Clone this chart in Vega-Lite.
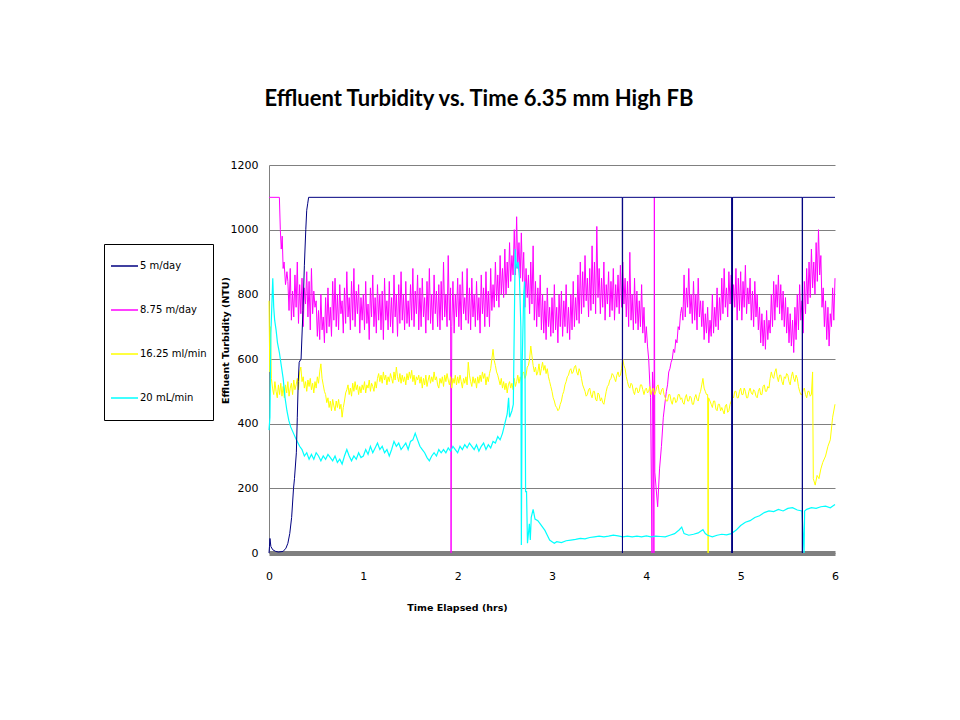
{
"$schema": "https://vega.github.io/schema/vega-lite/v6.json",
"autosize": "none",
"width": 566, "height": 388,
"padding": {"left": 269, "top": 165, "right": 125, "bottom": 167},
"background": "white",
"title": {"text": "Effluent Turbidity vs. Time 6.35 mm High FB", "font": "Lato", "fontSize": 22, "fontWeight": "bold", "color": "black", "anchor": "middle", "frame": "group", "dx": -73, "offset": 31, "baseline": "alphabetic"},
"config": {"view": {"stroke": null}},
"encoding": {
  "x": {"field": "t", "type": "quantitative", "scale": {"domain": [0, 6], "nice": false}, "axis": {"values": [0,1,2,3,4,5,6], "format": "d", "labelFlush": false, "grid": false, "ticks": false, "domainColor": "#808080", "domainWidth": 5, "labelFont": "DejaVu Sans", "labelFontSize": 11, "labelColor": "black", "labelPadding": 17, "title": "Time Elapsed  (hrs)", "titleFont": "DejaVu Sans", "titleFontSize": 9.5, "titleFontWeight": "bold", "titleColor": "black", "titleX": 188, "titleY": 54, "titleBaseline": "middle", "titleAlign": "center"}},
  "y": {"field": "v", "type": "quantitative", "scale": {"domain": [0, 1200], "nice": false}, "axis": {"values": [0,200,400,600,800,1000,1200], "format": "d", "grid": true, "gridColor": "#808080", "gridWidth": 1, "ticks": false, "domainColor": "#808080", "domainWidth": 1, "labelFont": "DejaVu Sans", "labelFontSize": 11, "labelColor": "black", "labelPadding": 11, "title": "Effluent Turbidity (NTU)", "titleFont": "DejaVu Sans", "titleFontSize": 9.5, "titleFontWeight": "bold", "titleColor": "black", "titleX": -44, "titleY": 175, "titleBaseline": "middle", "titleAlign": "center"}}
},
"layer": [
{
"data": {"values": [
{"t":0,"v":1100},{"t":0.11,"v":1100},{"t":0.12,"v":1000},{"t":0.13,"v":940},{"t":0.14,"v":980},{"t":0.15,"v":880},{"t":0.16,"v":900},{"t":0.175,"v":830},{"t":0.19,"v":870},
{"t":0.2,"v":840},{"t":0.2125,"v":750},{"t":0.225,"v":880},{"t":0.2375,"v":720},{"t":0.25,"v":810},{"t":0.2625,"v":730},{"t":0.275,"v":860},{"t":0.2875,"v":760},
{"t":0.3,"v":900},{"t":0.3125,"v":710},{"t":0.325,"v":830},{"t":0.3375,"v":740},{"t":0.35,"v":850},{"t":0.3625,"v":700},{"t":0.375,"v":820},{"t":0.3875,"v":770},
{"t":0.4,"v":870},{"t":0.4125,"v":730},{"t":0.425,"v":840},{"t":0.4375,"v":690},{"t":0.45,"v":880},{"t":0.4625,"v":740},{"t":0.475,"v":810},{"t":0.4875,"v":760},
{"t":0.5,"v":780},{"t":0.5125,"v":670},{"t":0.525,"v":750},{"t":0.5375,"v":660},{"t":0.55,"v":800},{"t":0.5625,"v":690},{"t":0.575,"v":730},{"t":0.5875,"v":650},
{"t":0.6,"v":790},{"t":0.6125,"v":680},{"t":0.625,"v":820},{"t":0.6375,"v":700},{"t":0.65,"v":760},{"t":0.6625,"v":670},{"t":0.675,"v":840},{"t":0.6875,"v":720},
{"t":0.7,"v":850},{"t":0.7125,"v":700},{"t":0.725,"v":800},{"t":0.7375,"v":690},{"t":0.75,"v":830},{"t":0.7625,"v":740},{"t":0.775,"v":780},{"t":0.7875,"v":680},
{"t":0.8,"v":820},{"t":0.8125,"v":710},{"t":0.825,"v":870},{"t":0.8375,"v":730},{"t":0.85,"v":790},{"t":0.8625,"v":690},{"t":0.875,"v":840},{"t":0.8875,"v":720},
{"t":0.9,"v":880},{"t":0.9125,"v":700},{"t":0.925,"v":810},{"t":0.9375,"v":740},{"t":0.95,"v":830},{"t":0.9625,"v":680},{"t":0.975,"v":790},{"t":0.9875,"v":720},
{"t":1.0,"v":800},{"t":1.0125,"v":690},{"t":1.025,"v":840},{"t":1.0375,"v":710},{"t":1.05,"v":770},{"t":1.0625,"v":660},{"t":1.075,"v":820},{"t":1.0875,"v":730},
{"t":1.1,"v":860},{"t":1.1125,"v":700},{"t":1.125,"v":790},{"t":1.1375,"v":680},{"t":1.15,"v":830},{"t":1.1625,"v":720},{"t":1.175,"v":800},{"t":1.1875,"v":690},
{"t":1.2,"v":810},{"t":1.2125,"v":660},{"t":1.225,"v":850},{"t":1.2375,"v":720},{"t":1.25,"v":780},{"t":1.2625,"v":690},{"t":1.275,"v":840},{"t":1.2875,"v":700},
{"t":1.3,"v":790},{"t":1.3125,"v":680},{"t":1.325,"v":860},{"t":1.3375,"v":730},{"t":1.35,"v":800},{"t":1.3625,"v":670},{"t":1.375,"v":830},{"t":1.3875,"v":710},
{"t":1.4,"v":870},{"t":1.4125,"v":720},{"t":1.425,"v":800},{"t":1.4375,"v":690},{"t":1.45,"v":840},{"t":1.4625,"v":710},{"t":1.475,"v":780},{"t":1.4875,"v":700},
{"t":1.5,"v":830},{"t":1.5125,"v":720},{"t":1.525,"v":880},{"t":1.5375,"v":700},{"t":1.55,"v":810},{"t":1.5625,"v":740},{"t":1.575,"v":860},{"t":1.5875,"v":690},
{"t":1.6,"v":820},{"t":1.6125,"v":700},{"t":1.625,"v":850},{"t":1.6375,"v":730},{"t":1.65,"v":790},{"t":1.6625,"v":680},{"t":1.675,"v":840},{"t":1.6875,"v":720},
{"t":1.7,"v":880},{"t":1.7125,"v":710},{"t":1.725,"v":800},{"t":1.7375,"v":690},{"t":1.75,"v":860},{"t":1.7625,"v":740},{"t":1.775,"v":810},{"t":1.7875,"v":700},
{"t":1.8,"v":830},{"t":1.8125,"v":690},{"t":1.825,"v":840},{"t":1.8375,"v":720},{"t":1.85,"v":900},{"t":1.8625,"v":730},{"t":1.875,"v":800},{"t":1.8875,"v":700},
{"t":1.9,"v":920},{"t":1.9125,"v":720},{"t":1.925,"v":820},{"t":1.93,"v":0},{"t":1.9375,"v":700},{"t":1.95,"v":840},{"t":1.9625,"v":680},{"t":1.975,"v":800},{"t":1.9875,"v":730},
{"t":2.0,"v":850},{"t":2.0125,"v":700},{"t":2.025,"v":830},{"t":2.0375,"v":690},{"t":2.05,"v":870},{"t":2.0625,"v":740},{"t":2.075,"v":790},{"t":2.0875,"v":720},
{"t":2.1,"v":880},{"t":2.1125,"v":710},{"t":2.125,"v":820},{"t":2.1375,"v":690},{"t":2.15,"v":850},{"t":2.1625,"v":730},{"t":2.175,"v":800},{"t":2.1875,"v":700},
{"t":2.2,"v":840},{"t":2.2125,"v":720},{"t":2.225,"v":790},{"t":2.2375,"v":680},{"t":2.25,"v":860},{"t":2.2625,"v":740},{"t":2.275,"v":820},{"t":2.2875,"v":700},
{"t":2.3,"v":870},{"t":2.3125,"v":730},{"t":2.325,"v":810},{"t":2.3375,"v":700},{"t":2.35,"v":880},{"t":2.3625,"v":750},{"t":2.375,"v":830},{"t":2.3875,"v":760},
{"t":2.4,"v":900},{"t":2.4125,"v":780},{"t":2.425,"v":860},{"t":2.4375,"v":760},{"t":2.45,"v":920},{"t":2.4625,"v":800},{"t":2.475,"v":880},{"t":2.4875,"v":790},
{"t":2.5,"v":940},{"t":2.5125,"v":800},{"t":2.525,"v":900},{"t":2.5375,"v":820},{"t":2.55,"v":960},{"t":2.5625,"v":840},{"t":2.575,"v":920},{"t":2.5875,"v":860},
{"t":2.6,"v":1000},{"t":2.6125,"v":860},{"t":2.625,"v":1040},{"t":2.6375,"v":880},{"t":2.65,"v":960},{"t":2.6625,"v":850},{"t":2.675,"v":990},{"t":2.6875,"v":840},
{"t":2.7,"v":930},{"t":2.7125,"v":760},{"t":2.725,"v":880},{"t":2.7375,"v":790},{"t":2.75,"v":860},{"t":2.7625,"v":740},{"t":2.775,"v":900},{"t":2.7875,"v":770},
{"t":2.8,"v":950},{"t":2.8125,"v":720},{"t":2.825,"v":840},{"t":2.8375,"v":700},{"t":2.85,"v":820},{"t":2.8625,"v":730},{"t":2.875,"v":860},{"t":2.8875,"v":690},
{"t":2.9,"v":800},{"t":2.9125,"v":680},{"t":2.925,"v":780},{"t":2.9375,"v":660},{"t":2.95,"v":820},{"t":2.9625,"v":700},{"t":2.975,"v":760},{"t":2.9875,"v":670},
{"t":3.0,"v":790},{"t":3.0125,"v":680},{"t":3.025,"v":830},{"t":3.0375,"v":690},{"t":3.05,"v":760},{"t":3.0625,"v":650},{"t":3.075,"v":800},{"t":3.0875,"v":700},
{"t":3.1,"v":810},{"t":3.1125,"v":670},{"t":3.125,"v":780},{"t":3.1375,"v":700},{"t":3.15,"v":830},{"t":3.1625,"v":680},{"t":3.175,"v":760},{"t":3.1875,"v":660},
{"t":3.2,"v":800},{"t":3.2125,"v":690},{"t":3.225,"v":840},{"t":3.2375,"v":700},{"t":3.25,"v":790},{"t":3.2625,"v":720},{"t":3.275,"v":860},{"t":3.2875,"v":710},
{"t":3.3,"v":900},{"t":3.3125,"v":740},{"t":3.325,"v":870},{"t":3.3375,"v":760},{"t":3.35,"v":920},{"t":3.3625,"v":780},{"t":3.375,"v":850},{"t":3.3875,"v":730},
{"t":3.4,"v":880},{"t":3.4125,"v":750},{"t":3.425,"v":950},{"t":3.4375,"v":770},{"t":3.45,"v":900},{"t":3.4625,"v":740},{"t":3.475,"v":1010},{"t":3.4875,"v":790},
{"t":3.5,"v":880},{"t":3.5125,"v":740},{"t":3.525,"v":850},{"t":3.5375,"v":760},{"t":3.55,"v":900},{"t":3.5625,"v":720},{"t":3.575,"v":830},{"t":3.5875,"v":770},
{"t":3.6,"v":870},{"t":3.6125,"v":730},{"t":3.625,"v":840},{"t":3.6375,"v":750},{"t":3.65,"v":880},{"t":3.6625,"v":720},{"t":3.675,"v":830},{"t":3.6875,"v":760},
{"t":3.7,"v":860},{"t":3.7125,"v":740},{"t":3.725,"v":890},{"t":3.7375,"v":760},{"t":3.75,"v":900},{"t":3.7625,"v":770},{"t":3.775,"v":850},{"t":3.7875,"v":730},
{"t":3.8,"v":840},{"t":3.8125,"v":700},{"t":3.825,"v":930},{"t":3.8375,"v":720},{"t":3.85,"v":800},{"t":3.8625,"v":690},{"t":3.875,"v":850},{"t":3.8875,"v":710},
{"t":3.9,"v":810},{"t":3.9125,"v":690},{"t":3.925,"v":780},{"t":3.9375,"v":700},{"t":3.95,"v":830},{"t":3.9625,"v":680},{"t":3.975,"v":760},{"t":3.9875,"v":650},
{"t":4.0,"v":700},{"t":4.0125,"v":640},{"t":4.025,"v":600},{"t":4.0375,"v":520},{"t":4.045,"v":480},{"t":4.06,"v":0},{"t":4.065,"v":560},{"t":4.075,"v":500},{"t":4.08,"v":0},{"t":4.085,"v":1100},
{"t":4.09,"v":250},{"t":4.12,"v":143},{"t":4.14,"v":260},{"t":4.16,"v":330},{"t":4.18,"v":420},{"t":4.2,"v":470},{"t":4.2125,"v":500},{"t":4.225,"v":520},{"t":4.2375,"v":560},{"t":4.25,"v":570},
{"t":4.2625,"v":590},{"t":4.275,"v":600},{"t":4.2875,"v":630},{"t":4.3,"v":620},{"t":4.3125,"v":660},{"t":4.325,"v":650},{"t":4.3375,"v":700},{"t":4.35,"v":690},{"t":4.3625,"v":740},{"t":4.375,"v":760},{"t":4.3875,"v":720},
{"t":4.4,"v":860},{"t":4.4125,"v":730},{"t":4.425,"v":820},{"t":4.4375,"v":760},{"t":4.45,"v":880},{"t":4.4625,"v":740},{"t":4.475,"v":800},{"t":4.4875,"v":710},
{"t":4.5,"v":840},{"t":4.5125,"v":720},{"t":4.525,"v":800},{"t":4.5375,"v":690},{"t":4.55,"v":850},{"t":4.5625,"v":730},{"t":4.575,"v":780},{"t":4.5875,"v":700},
{"t":4.6,"v":780},{"t":4.6125,"v":660},{"t":4.625,"v":740},{"t":4.6375,"v":680},{"t":4.65,"v":760},{"t":4.6625,"v":650},{"t":4.675,"v":720},{"t":4.6875,"v":670},
{"t":4.7,"v":800},{"t":4.7125,"v":680},{"t":4.725,"v":760},{"t":4.7375,"v":700},{"t":4.75,"v":820},{"t":4.7625,"v":690},{"t":4.775,"v":790},{"t":4.7875,"v":720},
{"t":4.8,"v":850},{"t":4.8125,"v":740},{"t":4.825,"v":880},{"t":4.8375,"v":760},{"t":4.85,"v":820},{"t":4.8625,"v":730},{"t":4.875,"v":870},{"t":4.8875,"v":770},
{"t":4.9,"v":860},{"t":4.9125,"v":740},{"t":4.925,"v":830},{"t":4.9375,"v":760},{"t":4.95,"v":880},{"t":4.9625,"v":720},{"t":4.975,"v":850},{"t":4.9875,"v":750},
{"t":5.0,"v":870},{"t":5.0125,"v":720},{"t":5.025,"v":840},{"t":5.0375,"v":760},{"t":5.05,"v":890},{"t":5.0625,"v":740},{"t":5.075,"v":820},{"t":5.0875,"v":770},
{"t":5.1,"v":850},{"t":5.1125,"v":720},{"t":5.125,"v":810},{"t":5.1375,"v":700},{"t":5.15,"v":840},{"t":5.1625,"v":730},{"t":5.175,"v":800},{"t":5.1875,"v":690},
{"t":5.2,"v":760},{"t":5.2125,"v":650},{"t":5.225,"v":740},{"t":5.2375,"v":640},{"t":5.25,"v":720},{"t":5.2625,"v":630},{"t":5.275,"v":750},{"t":5.2875,"v":660},
{"t":5.3,"v":720},{"t":5.3125,"v":680},{"t":5.325,"v":800},{"t":5.3375,"v":700},{"t":5.35,"v":840},{"t":5.3625,"v":720},{"t":5.375,"v":830},{"t":5.3875,"v":760},
{"t":5.4,"v":860},{"t":5.4125,"v":740},{"t":5.425,"v":830},{"t":5.4375,"v":720},{"t":5.45,"v":810},{"t":5.4625,"v":700},{"t":5.475,"v":790},{"t":5.4875,"v":680},
{"t":5.5,"v":760},{"t":5.5125,"v":650},{"t":5.525,"v":740},{"t":5.5375,"v":640},{"t":5.55,"v":720},{"t":5.5625,"v":620},{"t":5.575,"v":760},{"t":5.5875,"v":660},
{"t":5.6,"v":800},{"t":5.6125,"v":690},{"t":5.625,"v":830},{"t":5.6375,"v":720},{"t":5.65,"v":780},{"t":5.6625,"v":680},{"t":5.675,"v":840},{"t":5.6875,"v":740},
{"t":5.7,"v":880},{"t":5.7125,"v":770},{"t":5.725,"v":900},{"t":5.7375,"v":790},{"t":5.75,"v":940},{"t":5.7625,"v":820},{"t":5.775,"v":900},{"t":5.7875,"v":800},
{"t":5.8,"v":960},{"t":5.8125,"v":840},{"t":5.825,"v":1000},{"t":5.8375,"v":860},{"t":5.85,"v":920},{"t":5.8625,"v":760},{"t":5.875,"v":820},{"t":5.8875,"v":700},
{"t":5.9,"v":780},{"t":5.9125,"v":660},{"t":5.925,"v":760},{"t":5.9375,"v":640},{"t":5.95,"v":740},{"t":5.9625,"v":700},{"t":5.975,"v":820},{"t":5.9875,"v":720},{"t":6.0,"v":850}
]},
"mark": {"type": "line", "strokeWidth": 1},
"encoding": {"color": {"datum": "8.75 m/day", "type": "nominal",
  "scale": {"domain": ["5 m/day", "8.75 m/day", "16.25 ml/min", "20  mL/min"], "range": ["#000080", "#FF00FF", "#FFFF00", "#00FFFF"]},
  "legend": {"title": null, "orient": "none", "legendX": -165, "legendY": 79, "symbolType": "stroke", "symbolSize": 729, "symbolStrokeWidth": 1.5, "labelFont": "DejaVu Sans", "labelFontSize": 10, "labelColor": "black", "labelOffset": 1, "padding": 6, "rowPadding": 12, "clipHeight": 32, "strokeColor": "black", "fillColor": "white"}}}
},
{
"data": {"values": [
{"t":0,"v":780},{"t":0.008,"v":560},{"t":0.015,"v":700},{"t":0.025,"v":540},{"t":0.0375,"v":510},
{"t":0.05,"v":490},{"t":0.0625,"v":530},{"t":0.075,"v":500},{"t":0.0875,"v":480},{"t":0.1,"v":520},{"t":0.1125,"v":490},{"t":0.125,"v":525},{"t":0.1375,"v":485},
{"t":0.15,"v":515},{"t":0.1625,"v":480},{"t":0.175,"v":520},{"t":0.1875,"v":495},{"t":0.2,"v":530},{"t":0.2125,"v":485},{"t":0.225,"v":510},{"t":0.2375,"v":525},{"t":0.25,"v":490},{"t":0.2625,"v":535},{"t":0.275,"v":505},{"t":0.2875,"v":520},
{"t":0.3,"v":540},{"t":0.3125,"v":505},{"t":0.325,"v":560},{"t":0.3375,"v":575},{"t":0.35,"v":530},{"t":0.3625,"v":545},{"t":0.375,"v":510},{"t":0.3875,"v":530},
{"t":0.4,"v":500},{"t":0.4125,"v":535},{"t":0.425,"v":515},{"t":0.4375,"v":540},{"t":0.45,"v":505},{"t":0.4625,"v":525},{"t":0.475,"v":495},{"t":0.4875,"v":530},
{"t":0.5,"v":510},{"t":0.5125,"v":545},{"t":0.525,"v":525},{"t":0.5375,"v":560},{"t":0.55,"v":585},{"t":0.5625,"v":540},{"t":0.575,"v":520},{"t":0.5875,"v":500},
{"t":0.6,"v":490},{"t":0.6125,"v":465},{"t":0.625,"v":480},{"t":0.6375,"v":450},{"t":0.65,"v":470},{"t":0.6625,"v":440},{"t":0.675,"v":475},{"t":0.6875,"v":455},
{"t":0.7,"v":440},{"t":0.7125,"v":470},{"t":0.725,"v":450},{"t":0.7375,"v":475},{"t":0.75,"v":445},{"t":0.7625,"v":460},{"t":0.775,"v":420},{"t":0.7875,"v":450},
{"t":0.8,"v":470},{"t":0.8125,"v":495},{"t":0.825,"v":505},{"t":0.8375,"v":520},{"t":0.85,"v":490},{"t":0.8625,"v":510},{"t":0.875,"v":485},{"t":0.8875,"v":525},
{"t":0.9,"v":500},{"t":0.9125,"v":530},{"t":0.925,"v":505},{"t":0.9375,"v":520},{"t":0.95,"v":490},{"t":0.9625,"v":515},{"t":0.975,"v":495},{"t":0.9875,"v":520},
{"t":1.0,"v":505},{"t":1.0125,"v":530},{"t":1.025,"v":495},{"t":1.0375,"v":520},{"t":1.05,"v":510},{"t":1.0625,"v":535},{"t":1.075,"v":500},{"t":1.0875,"v":525},
{"t":1.1,"v":515},{"t":1.1125,"v":500},{"t":1.125,"v":530},{"t":1.1375,"v":510},{"t":1.15,"v":540},{"t":1.1625,"v":555},{"t":1.175,"v":530},{"t":1.1875,"v":550},
{"t":1.2,"v":525},{"t":1.2125,"v":560},{"t":1.225,"v":535},{"t":1.2375,"v":550},{"t":1.25,"v":520},{"t":1.2625,"v":545},{"t":1.275,"v":530},{"t":1.2875,"v":555},
{"t":1.3,"v":540},{"t":1.3125,"v":525},{"t":1.325,"v":560},{"t":1.3375,"v":535},{"t":1.35,"v":575},{"t":1.3625,"v":545},{"t":1.375,"v":530},{"t":1.3875,"v":555},
{"t":1.4,"v":525},{"t":1.4125,"v":550},{"t":1.425,"v":530},{"t":1.4375,"v":545},{"t":1.45,"v":520},{"t":1.4625,"v":555},{"t":1.475,"v":535},{"t":1.4875,"v":560},
{"t":1.5,"v":540},{"t":1.5125,"v":565},{"t":1.525,"v":530},{"t":1.5375,"v":550},{"t":1.55,"v":520},{"t":1.5625,"v":545},{"t":1.575,"v":535},{"t":1.5875,"v":550},
{"t":1.6,"v":525},{"t":1.6125,"v":545},{"t":1.625,"v":510},{"t":1.6375,"v":540},{"t":1.65,"v":520},{"t":1.6625,"v":550},{"t":1.675,"v":515},{"t":1.6875,"v":535},
{"t":1.7,"v":550},{"t":1.7125,"v":525},{"t":1.725,"v":545},{"t":1.7375,"v":530},{"t":1.75,"v":560},{"t":1.7625,"v":535},{"t":1.775,"v":545},{"t":1.7875,"v":520},
{"t":1.8,"v":510},{"t":1.8125,"v":540},{"t":1.825,"v":525},{"t":1.8375,"v":545},{"t":1.85,"v":515},{"t":1.8625,"v":550},{"t":1.875,"v":530},{"t":1.8875,"v":555},
{"t":1.9,"v":535},{"t":1.9125,"v":520},{"t":1.925,"v":545},{"t":1.9375,"v":510},{"t":1.95,"v":540},{"t":1.9625,"v":525},{"t":1.975,"v":550},{"t":1.9875,"v":520},
{"t":2.0,"v":545},{"t":2.0125,"v":525},{"t":2.025,"v":550},{"t":2.0375,"v":530},{"t":2.05,"v":510},{"t":2.0625,"v":540},{"t":2.075,"v":525},{"t":2.0875,"v":545},
{"t":2.1,"v":520},{"t":2.1125,"v":590},{"t":2.125,"v":550},{"t":2.1375,"v":530},{"t":2.15,"v":515},{"t":2.1625,"v":545},{"t":2.175,"v":525},{"t":2.1875,"v":540},
{"t":2.2,"v":510},{"t":2.2125,"v":545},{"t":2.225,"v":525},{"t":2.2375,"v":550},{"t":2.25,"v":530},{"t":2.2625,"v":560},{"t":2.275,"v":540},{"t":2.2875,"v":555},
{"t":2.3,"v":520},{"t":2.3125,"v":545},{"t":2.325,"v":530},{"t":2.3375,"v":555},{"t":2.35,"v":570},{"t":2.3625,"v":600},{"t":2.375,"v":630},{"t":2.3875,"v":595},
{"t":2.4,"v":580},{"t":2.4125,"v":560},{"t":2.425,"v":550},{"t":2.4375,"v":535},{"t":2.45,"v":520},{"t":2.4625,"v":540},{"t":2.475,"v":510},{"t":2.4875,"v":530},
{"t":2.5,"v":505},{"t":2.5125,"v":525},{"t":2.525,"v":495},{"t":2.5375,"v":520},{"t":2.55,"v":530},{"t":2.5625,"v":510},{"t":2.575,"v":525},{"t":2.5875,"v":505},
{"t":2.6,"v":540},{"t":2.6125,"v":515},{"t":2.625,"v":530},{"t":2.6375,"v":550},{"t":2.65,"v":525},{"t":2.6625,"v":545},{"t":2.675,"v":530},{"t":2.6875,"v":555},
{"t":2.7,"v":560},{"t":2.7125,"v":540},{"t":2.725,"v":550},{"t":2.7375,"v":575},{"t":2.75,"v":580},{"t":2.7625,"v":600},{"t":2.775,"v":640},{"t":2.7875,"v":610},
{"t":2.8,"v":580},{"t":2.8125,"v":560},{"t":2.825,"v":575},{"t":2.8375,"v":550},{"t":2.85,"v":560},{"t":2.8625,"v":585},{"t":2.875,"v":550},{"t":2.8875,"v":570},
{"t":2.9,"v":590},{"t":2.9125,"v":565},{"t":2.925,"v":580},{"t":2.9375,"v":555},{"t":2.95,"v":570},{"t":2.9625,"v":545},{"t":2.975,"v":530},{"t":2.9875,"v":515},
{"t":3.0,"v":500},{"t":3.0125,"v":480},{"t":3.025,"v":470},{"t":3.0375,"v":455},{"t":3.05,"v":450},{"t":3.0625,"v":440},{"t":3.075,"v":445},{"t":3.0875,"v":460},
{"t":3.1,"v":470},{"t":3.1125,"v":490},{"t":3.125,"v":500},{"t":3.1375,"v":520},{"t":3.15,"v":530},{"t":3.1625,"v":545},{"t":3.175,"v":550},{"t":3.1875,"v":565},
{"t":3.2,"v":570},{"t":3.2125,"v":555},{"t":3.225,"v":560},{"t":3.2375,"v":575},{"t":3.25,"v":580},{"t":3.2625,"v":560},{"t":3.275,"v":550},{"t":3.2875,"v":570},
{"t":3.3,"v":560},{"t":3.3125,"v":540},{"t":3.325,"v":520},{"t":3.3375,"v":510},{"t":3.35,"v":500},{"t":3.3625,"v":485},{"t":3.375,"v":490},{"t":3.3875,"v":505},
{"t":3.4,"v":510},{"t":3.4125,"v":490},{"t":3.425,"v":480},{"t":3.4375,"v":500},{"t":3.45,"v":500},{"t":3.4625,"v":475},{"t":3.475,"v":470},{"t":3.4875,"v":495},
{"t":3.5,"v":490},{"t":3.5125,"v":470},{"t":3.525,"v":480},{"t":3.5375,"v":465},{"t":3.55,"v":460},{"t":3.5625,"v":480},{"t":3.575,"v":500},{"t":3.5875,"v":515},
{"t":3.6,"v":520},{"t":3.6125,"v":535},{"t":3.625,"v":540},{"t":3.6375,"v":555},{"t":3.65,"v":550},{"t":3.6625,"v":540},{"t":3.675,"v":530},{"t":3.6875,"v":550},
{"t":3.7,"v":560},{"t":3.7125,"v":545},{"t":3.725,"v":550},{"t":3.7375,"v":570},{"t":3.75,"v":600},{"t":3.7625,"v":580},{"t":3.775,"v":570},{"t":3.7875,"v":545},
{"t":3.8,"v":530},{"t":3.8125,"v":515},{"t":3.825,"v":510},{"t":3.8375,"v":525},{"t":3.85,"v":520},{"t":3.8625,"v":500},{"t":3.875,"v":490},{"t":3.8875,"v":510},
{"t":3.9,"v":510},{"t":3.9125,"v":495},{"t":3.925,"v":500},{"t":3.9375,"v":520},{"t":3.95,"v":520},{"t":3.9625,"v":505},{"t":3.975,"v":490},{"t":3.9875,"v":505},
{"t":4.0,"v":510},{"t":4.0125,"v":495},{"t":4.025,"v":500},{"t":4.0375,"v":515},{"t":4.05,"v":490},{"t":4.0625,"v":505},{"t":4.075,"v":510},{"t":4.0875,"v":490},
{"t":4.1,"v":500},{"t":4.1125,"v":515},{"t":4.125,"v":520},{"t":4.1375,"v":495},{"t":4.15,"v":490},{"t":4.1625,"v":505},{"t":4.175,"v":510},{"t":4.1875,"v":490},
{"t":4.2,"v":480},{"t":4.2125,"v":470},{"t":4.225,"v":470},{"t":4.2375,"v":490},{"t":4.25,"v":490},{"t":4.2625,"v":470},{"t":4.275,"v":460},{"t":4.2875,"v":480},
{"t":4.3,"v":480},{"t":4.3125,"v":465},{"t":4.325,"v":470},{"t":4.3375,"v":490},{"t":4.35,"v":490},{"t":4.3625,"v":475},{"t":4.375,"v":480},{"t":4.3875,"v":465},
{"t":4.4,"v":460},{"t":4.4125,"v":480},{"t":4.425,"v":490},{"t":4.4375,"v":470},{"t":4.45,"v":470},{"t":4.4625,"v":485},{"t":4.475,"v":480},{"t":4.4875,"v":460},
{"t":4.5,"v":460},{"t":4.5125,"v":480},{"t":4.525,"v":490},{"t":4.5375,"v":475},{"t":4.55,"v":470},{"t":4.5625,"v":490},{"t":4.575,"v":500},{"t":4.5875,"v":520},
{"t":4.6,"v":540},{"t":4.6125,"v":510},{"t":4.625,"v":500},{"t":4.6375,"v":490},{"t":4.65,"v":490},{"t":4.655,"v":0},{"t":4.66,"v":480},{"t":4.675,"v":470},{"t":4.6875,"v":460},
{"t":4.7,"v":450},{"t":4.7125,"v":470},{"t":4.725,"v":470},{"t":4.7375,"v":445},{"t":4.75,"v":440},{"t":4.7625,"v":460},{"t":4.775,"v":460},{"t":4.7875,"v":440},
{"t":4.8,"v":450},{"t":4.8125,"v":440},{"t":4.825,"v":430},{"t":4.8375,"v":455},{"t":4.85,"v":460},{"t":4.8625,"v":435},{"t":4.875,"v":440},{"t":4.8875,"v":460},
{"t":4.9,"v":470},{"t":4.9125,"v":485},{"t":4.925,"v":480},{"t":4.9375,"v":500},{"t":4.95,"v":500},{"t":4.9625,"v":480},{"t":4.975,"v":480},{"t":4.9875,"v":500},
{"t":5.0,"v":510},{"t":5.0125,"v":490},{"t":5.025,"v":490},{"t":5.0375,"v":510},{"t":5.05,"v":500},{"t":5.0625,"v":480},{"t":5.075,"v":480},{"t":5.0875,"v":500},
{"t":5.1,"v":510},{"t":5.1125,"v":495},{"t":5.125,"v":490},{"t":5.1375,"v":505},{"t":5.15,"v":500},{"t":5.1625,"v":485},{"t":5.175,"v":480},{"t":5.1875,"v":500},
{"t":5.2,"v":510},{"t":5.2125,"v":490},{"t":5.225,"v":490},{"t":5.2375,"v":515},{"t":5.25,"v":520},{"t":5.2625,"v":500},{"t":5.275,"v":500},{"t":5.2875,"v":515},
{"t":5.3,"v":510},{"t":5.3125,"v":540},{"t":5.325,"v":560},{"t":5.3375,"v":545},{"t":5.35,"v":540},{"t":5.3625,"v":560},{"t":5.375,"v":570},{"t":5.3875,"v":545},
{"t":5.4,"v":530},{"t":5.4125,"v":550},{"t":5.425,"v":550},{"t":5.4375,"v":530},{"t":5.45,"v":520},{"t":5.4625,"v":545},{"t":5.475,"v":540},{"t":5.4875,"v":555},
{"t":5.5,"v":550},{"t":5.5125,"v":530},{"t":5.525,"v":520},{"t":5.5375,"v":545},{"t":5.55,"v":560},{"t":5.5625,"v":540},{"t":5.575,"v":530},{"t":5.5875,"v":550},
{"t":5.6,"v":540},{"t":5.6125,"v":515},{"t":5.625,"v":500},{"t":5.6375,"v":490},{"t":5.65,"v":490},{"t":5.6625,"v":505},{"t":5.675,"v":510},{"t":5.6875,"v":490},
{"t":5.7,"v":480},{"t":5.7125,"v":500},{"t":5.725,"v":500},{"t":5.7375,"v":485},{"t":5.75,"v":490},{"t":5.7625,"v":560},{"t":5.77,"v":230},
{"t":5.79,"v":210},{"t":5.81,"v":240},{"t":5.83,"v":230},{"t":5.85,"v":260},{"t":5.87,"v":280},{"t":5.9,"v":300},{"t":5.925,"v":330},{"t":5.95,"v":350},{"t":5.975,"v":420},{"t":6.0,"v":460}
]},
"mark": {"type": "line", "strokeWidth": 1},
"encoding": {"color": {"datum": "16.25 ml/min", "type": "nominal"}}
},
{
"data": {"values": [
{"t":0,"v":380},{"t":0.01,"v":420},{"t":0.02,"v":680},{"t":0.04,"v":850},{"t":0.05,"v":760},{"t":0.06,"v":720},{"t":0.075,"v":690},{"t":0.09,"v":650},{"t":0.11,"v":620},{"t":0.13,"v":580},{"t":0.15,"v":540},{"t":0.17,"v":480},
{"t":0.19,"v":440},{"t":0.21,"v":410},{"t":0.23,"v":390},{"t":0.26,"v":370},{"t":0.29,"v":350},{"t":0.325,"v":330},{"t":0.35,"v":320},{"t":0.375,"v":300},{"t":0.4,"v":310},{"t":0.425,"v":290},{"t":0.45,"v":305},{"t":0.475,"v":290},
{"t":0.5,"v":310},{"t":0.525,"v":300},{"t":0.55,"v":285},{"t":0.575,"v":300},{"t":0.6,"v":290},{"t":0.625,"v":305},{"t":0.65,"v":295},{"t":0.675,"v":285},{"t":0.7,"v":300},{"t":0.725,"v":280},{"t":0.75,"v":290},{"t":0.775,"v":275},
{"t":0.8,"v":300},{"t":0.825,"v":320},{"t":0.85,"v":300},{"t":0.875,"v":285},{"t":0.9,"v":300},{"t":0.925,"v":290},{"t":0.95,"v":310},{"t":0.975,"v":295},{"t":1.0,"v":300},{"t":1.025,"v":320},{"t":1.05,"v":305},{"t":1.075,"v":330},
{"t":1.1,"v":310},{"t":1.125,"v":325},{"t":1.15,"v":340},{"t":1.175,"v":320},{"t":1.2,"v":330},{"t":1.225,"v":310},{"t":1.25,"v":320},{"t":1.275,"v":300},{"t":1.3,"v":320},{"t":1.325,"v":345},{"t":1.35,"v":330},{"t":1.375,"v":340},
{"t":1.4,"v":320},{"t":1.425,"v":330},{"t":1.45,"v":340},{"t":1.475,"v":320},{"t":1.5,"v":345},{"t":1.525,"v":350},{"t":1.55,"v":370},{"t":1.575,"v":350},{"t":1.6,"v":330},{"t":1.625,"v":320},{"t":1.65,"v":310},{"t":1.675,"v":295},
{"t":1.7,"v":285},{"t":1.725,"v":300},{"t":1.75,"v":310},{"t":1.775,"v":300},{"t":1.8,"v":320},{"t":1.825,"v":310},{"t":1.85,"v":320},{"t":1.875,"v":310},{"t":1.9,"v":325},{"t":1.925,"v":315},{"t":1.95,"v":330},{"t":1.975,"v":320},
{"t":2.0,"v":310},{"t":2.025,"v":330},{"t":2.05,"v":320},{"t":2.075,"v":335},{"t":2.1,"v":325},{"t":2.125,"v":340},{"t":2.15,"v":330},{"t":2.175,"v":320},{"t":2.2,"v":335},{"t":2.225,"v":315},{"t":2.25,"v":330},{"t":2.275,"v":340},
{"t":2.3,"v":320},{"t":2.325,"v":335},{"t":2.35,"v":325},{"t":2.375,"v":345},{"t":2.4,"v":340},{"t":2.425,"v":360},{"t":2.45,"v":350},{"t":2.475,"v":370},{"t":2.5,"v":400},{"t":2.525,"v":430},{"t":2.54,"v":480},{"t":2.55,"v":420},
{"t":2.575,"v":440},{"t":2.59,"v":460},{"t":2.6,"v":700},{"t":2.61,"v":940},{"t":2.625,"v":880},{"t":2.64,"v":900},{"t":2.655,"v":850},{"t":2.67,"v":700},{"t":2.675,"v":25},{"t":2.685,"v":600},{"t":2.7,"v":800},{"t":2.71,"v":840},
{"t":2.72,"v":190},{"t":2.73,"v":190},{"t":2.74,"v":30},{"t":2.75,"v":60},{"t":2.76,"v":90},{"t":2.77,"v":40},{"t":2.78,"v":110},{"t":2.8,"v":135},{"t":2.82,"v":105},{"t":2.85,"v":100},{"t":2.875,"v":90},{"t":2.9,"v":80},
{"t":2.925,"v":70},{"t":2.95,"v":55},{"t":2.975,"v":40},{"t":3.0,"v":35},{"t":3.025,"v":30},{"t":3.05,"v":35},{"t":3.1,"v":32},{"t":3.15,"v":38},{"t":3.2,"v":40},{"t":3.25,"v":42},{"t":3.3,"v":45},{"t":3.35,"v":44},
{"t":3.4,"v":48},{"t":3.45,"v":50},{"t":3.5,"v":52},{"t":3.55,"v":50},{"t":3.6,"v":52},{"t":3.65,"v":55},{"t":3.7,"v":53},{"t":3.75,"v":50},{"t":3.8,"v":52},{"t":3.85,"v":50},{"t":3.9,"v":52},{"t":3.95,"v":50},
{"t":4.0,"v":53},{"t":4.05,"v":50},{"t":4.1,"v":52},{"t":4.15,"v":51},{"t":4.2,"v":50},{"t":4.25,"v":55},{"t":4.3,"v":60},{"t":4.35,"v":72},{"t":4.375,"v":80},{"t":4.4,"v":60},{"t":4.45,"v":55},{"t":4.5,"v":58},
{"t":4.55,"v":62},{"t":4.6,"v":72},{"t":4.625,"v":60},{"t":4.65,"v":55},{"t":4.7,"v":50},{"t":4.75,"v":55},{"t":4.8,"v":58},{"t":4.85,"v":56},{"t":4.9,"v":60},{"t":4.95,"v":70},{"t":5.0,"v":85},{"t":5.05,"v":95},
{"t":5.1,"v":100},{"t":5.15,"v":110},{"t":5.2,"v":115},{"t":5.25,"v":125},{"t":5.3,"v":130},{"t":5.35,"v":128},{"t":5.4,"v":135},{"t":5.45,"v":130},{"t":5.5,"v":138},{"t":5.55,"v":140},{"t":5.6,"v":133},{"t":5.65,"v":130},
{"t":5.672,"v":0},{"t":5.678,"v":130},{"t":5.7,"v":135},{"t":5.75,"v":140},{"t":5.8,"v":138},{"t":5.85,"v":143},{"t":5.9,"v":145},{"t":5.95,"v":140},{"t":6.0,"v":150}
]},
"mark": {"type": "line", "strokeWidth": 1.2},
"encoding": {"color": {"datum": "20  mL/min", "type": "nominal"}}
},
{
"data": {"values": [
{"t":0,"v":0},{"t":0.005,"v":20},{"t":0.01,"v":45},{"t":0.02,"v":20},{"t":0.04,"v":10},{"t":0.07,"v":5},{"t":0.1,"v":3},{"t":0.15,"v":5},{"t":0.18,"v":15},{"t":0.2,"v":30},{"t":0.22,"v":60},{"t":0.24,"v":110},
{"t":0.26,"v":200},{"t":0.27,"v":230},{"t":0.29,"v":310},{"t":0.3,"v":420},{"t":0.31,"v":530},{"t":0.32,"v":590},{"t":0.34,"v":600},{"t":0.36,"v":750},{"t":0.375,"v":890},{"t":0.39,"v":1000},{"t":0.4,"v":1060},{"t":0.41,"v":1080},
{"t":0.42,"v":1100},{"t":3.745,"v":1100},{"t":3.747,"v":0},{"t":3.749,"v":1100},{"t":4.905,"v":1100},{"t":4.907,"v":0},{"t":4.909,"v":1100},{"t":4.912,"v":0},{"t":4.914,"v":1100},{"t":5.652,"v":1100},{"t":5.654,"v":0},{"t":5.656,"v":1100},{"t":6.0,"v":1100}
]},
"mark": {"type": "line", "strokeWidth": 1},
"encoding": {"color": {"datum": "5 m/day", "type": "nominal"}}
}
]
}
